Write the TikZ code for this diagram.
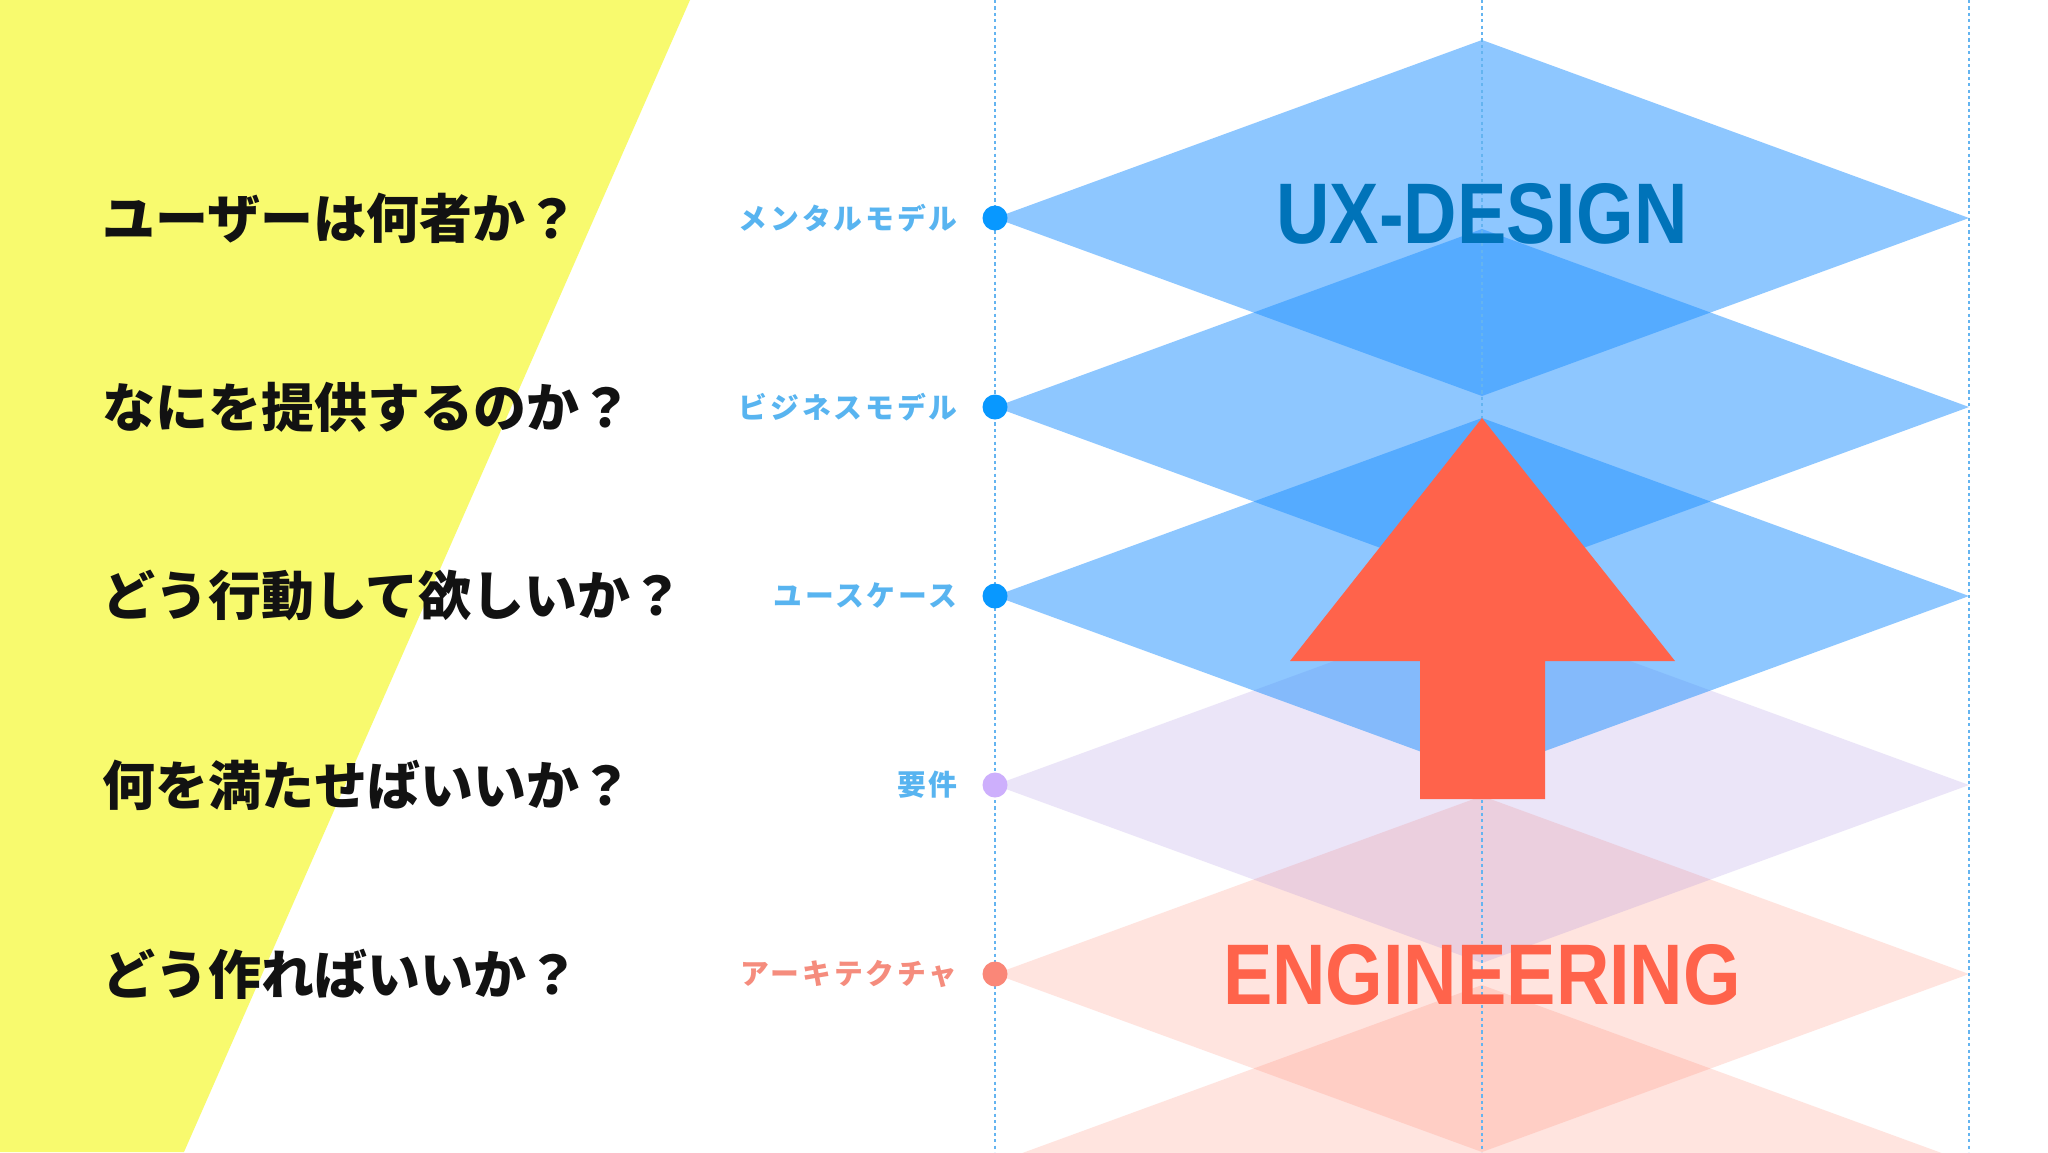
\documentclass[tikz,border=0pt]{standalone}
\usepackage{fontspec}
\usetikzlibrary{positioning}
\newfontfamily\jpfont{Noto Sans CJK JP}[BoldFont={Noto Sans CJK JP Black}]
\newfontfamily\jplabelfont{Noto Sans CJK JP}[LetterSpace=10]
\newfontfamily\condfont{Liberation Sans}[FakeStretch=0.86]
\definecolor{markeryellow}{RGB}{248,250,110}
\definecolor{layerblue}{RGB}{30,144,255}
\definecolor{layerpurple}{RGB}{147,112,219}
\definecolor{layerred}{RGB}{255,99,71}
\definecolor{dotblue}{RGB}{8,152,255}
\definecolor{dotpurple}{RGB}{205,175,252}
\definecolor{dotred}{RGB}{250,135,120}
\definecolor{labelblue}{RGB}{88,180,240}
\definecolor{labelred}{RGB}{245,140,125}
\definecolor{guideblue}{RGB}{100,180,240}
\definecolor{titleblue}{RGB}{0,115,185}
\definecolor{arrowred}{RGB}{255,99,75}

\tikzset{
  bluelayer/.style={fill=layerblue, fill opacity=0.5},
  purplelayer/.style={fill=layerpurple, fill opacity=0.18},
  redlayer/.style={fill=layerred, fill opacity=0.17},
  guide/.style={guideblue, line width=0.8pt, dash pattern=on 1.6pt off 1.6pt},
  dot/.style={circle, minimum size=12.5pt, inner sep=0pt},
  question/.style={anchor=west, inner sep=0pt, font=\jpfont\bfseries\fontsize{26.5}{30}\selectfont, text=black!93},
  layerlabel/.style={inner sep=0pt, font=\jplabelfont\bfseries\fontsize{14.4}{16}\selectfont},
  title/.style={inner sep=0pt, font=\condfont\bfseries\fontsize{43}{48}\selectfont}
}

\begin{document}
\begin{tikzpicture}[x=0.5pt, y=-0.5pt]
        % Canvas
        \fill[white] (0,0) rectangle (2048,1152);
        \useasboundingbox (0,0) rectangle (2048,1152);
        \fill[markeryellow] (0,0) -- (690,0) -- (184,1152) -- (0,1152) -- cycle;

        % Layers (bottom to top)
        \fill[redlayer] (995,1163) -- ++(487,-178) -- ++(487,178) -- ++(-487,178) -- cycle;
        \fill[redlayer] (995,974) -- ++(487,-178) -- ++(487,178) -- ++(-487,178) -- cycle;
        \fill[purplelayer] (995,785) -- ++(487,-178) -- ++(487,178) -- ++(-487,178) -- cycle;
        \fill[bluelayer] (995,596) -- ++(487,-178) -- ++(487,178) -- ++(-487,178) -- cycle;
        \fill[bluelayer] (995,407) -- ++(487,-178) -- ++(487,178) -- ++(-487,178) -- cycle;
        \fill[bluelayer] (995,218) -- ++(487,-178) -- ++(487,178) -- ++(-487,178) -- cycle;

        % Guide lines
        \draw[guide] (995,0) -- (995,1152);
        \draw[guide] (1482,0) -- (1482,1152);
        \draw[guide] (1969,0) -- (1969,1152);

        % Big arrow
        \coordinate (tip) at (1482,418);
        \fill[arrowred] (tip) -- (1675,661) -- (1545,661) -- (1545,799)
            -- (1420,799) -- (1420,661) -- (1290,661) -- cycle;

        % Layer dots
        \node[dot, fill=dotblue] (d1) at (995,218) {};
        \node[dot, fill=dotblue] (d2) at (995,407) {};
        \node[dot, fill=dotblue] (d3) at (995,596) {};
        \node[dot, fill=dotpurple] (d4) at (995,785) {};
        \node[dot, fill=dotred] (d5) at (995,974) {};

        % Layer labels
        \node[layerlabel, labelblue, left=12pt of d1] (l1) {メンタルモデル};
        \node[layerlabel, labelblue, left=12pt of d2] (l2) {ビジネスモデル};
        \node[layerlabel, labelblue, left=12pt of d3] (l3) {ユースケース};
        \node[layerlabel, labelblue, left=12pt of d4] (l4) {要件};
        \node[layerlabel, labelred, left=12pt of d5] (l5) {アーキテクチャ};

        % Questions
        \node[question] (q1) at (102,218) {ユーザーは何者か？};
        \node[question] (q2) at (102,407) {なにを提供するのか？};
        \node[question] (q3) at (102,596) {どう行動して欲しいか？};
        \node[question] (q4) at (102,785) {何を満たせばいいか？};
        \node[question] (q5) at (102,974) {どう作ればいいか？};

        % Titles
        \node[title, titleblue] (ux) at (1482,214) {UX-DESIGN};
        \node[title, arrowred] (eng) at (1482,975) {ENGINEERING};
\end{tikzpicture}
\end{document}
